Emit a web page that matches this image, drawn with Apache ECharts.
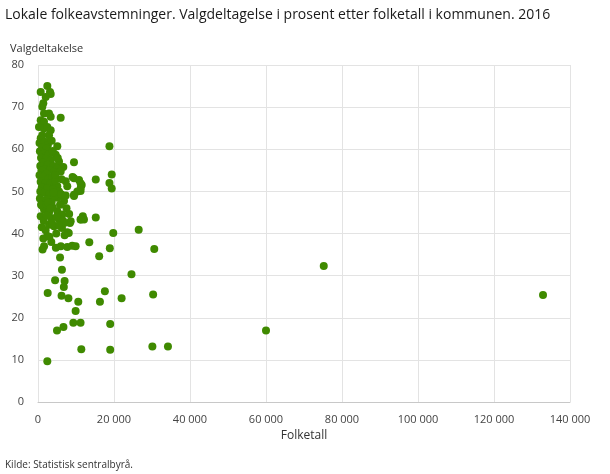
<!DOCTYPE html>
<html lang="no">
<head>
    <meta charset="UTF-8">
    <title>Lokale folkeavstemninger 2016</title>
    <script src="https://cdn.jsdelivr.net/npm/echarts@6/dist/echarts.min.js"></script>
    <style>
        html, body { margin: 0; padding: 0; background: #fff; }
    </style>
</head>
<body>
<div id="chart" style="width:610px;height:474px;"></div>
<script>
    // folketall (x) og valgdeltakelse i prosent (y), ett par per kommune
    var folketall = [
        2450, 710, 3160, 3340, 2030, 1400, 1130, 1580, 2900, 3340, 5970, 710, 1580, 260, 1580, 2450, 3340, 2900, 1130, 710, 5080, 18800,
        400, 1800, 2600, 3600, 1100, 2200,
        4660, 5530, 9470, 500, 1500, 2800, 3900, 800, 2100, 3400, 1200, 2600, 4000, 600, 6660, 5080, 1700, 3100, 900, 4300, 5970, 2300, 19400,
        7290, 9470, 10800, 9100, 15200, 18800, 19400, 11200, 11500, 11200, 11240, 10340, 9470, 7700, 5080, 5530, 400, 1300, 2700, 3800, 700, 2000, 3300, 4500, 1000, 2500, 4000, 600, 1800, 3000, 6200,
        2450, 5080, 6840, 9470, 1580, 2900, 5080, 6400, 1130, 500, 1200, 3600, 4300, 800, 2200, 3900, 5800, 7500, 2600, 3200,
        710, 5530, 11800, 12100, 11300, 15200, 8400, 8600, 11200, 2900, 4200, 6300, 7700, 8100, 19800, 26500, 1500, 3500, 2000, 4800, 1000, 6900,
        13500, 18900, 1600, 4700, 6000, 7700, 9000, 9900, 30600, 16100, 2450, 5800, 1200, 3500,
        6300, 7000, 6800, 4500, 2550, 6200, 8000, 10600, 9900, 17600, 16300, 22000, 24600, 30300, 5000, 6700, 9300, 11200, 19000, 11400, 19000, 2450, 30100, 34200, 60000, 75200, 132900,
        4900, 6600, 8200, 3700, 5500, 7000, 4100, 6100, 1400, 3000, 5200, 4600, 7300, 2300
    ];
    var valgdeltakelse = [
        75.0, 73.6, 73.6, 73.1, 72.4, 70.9, 70.1, 68.5, 68.5, 67.7, 67.5, 66.9, 66.5, 65.3, 64.9, 65.3, 64.5, 63.3, 63.3, 62.6, 60.7, 60.7,
        61.5, 61.8, 61.0, 62.0, 60.5, 60.2,
        58.7, 57.1, 56.9, 59.5, 59.0, 58.8, 59.6, 58.0, 57.7, 57.4, 56.8, 56.3, 56.0, 56.0, 55.8, 55.5, 55.3, 55.1, 54.9, 54.6, 54.7, 54.2, 54.0,
        52.4, 53.1, 52.7, 53.4, 52.8, 52.0, 50.7, 51.9, 51.5, 50.1, 50.8, 50.0, 49.2, 51.2, 51.2, 50.0, 53.8, 53.5, 53.0, 53.3, 52.3, 52.0, 51.8, 52.5, 51.0, 50.8, 50.5, 50.0, 49.6, 49.4, 52.9,
        48.1, 48.5, 47.7, 48.9, 45.7, 44.9, 45.3, 44.5, 46.5, 48.3, 47.8, 47.5, 48.9, 46.8, 46.9, 46.2, 46.8, 46.0, 47.3, 45.9,
        44.1, 43.3, 44.1, 43.3, 43.3, 43.8, 42.5, 42.9, 43.3, 42.1, 41.7, 41.3, 40.3, 40.1, 40.1, 40.9, 43.0, 43.6, 40.8, 40.0, 41.5, 42.5,
        37.9, 36.5, 37.0, 36.6, 37.0, 36.8, 37.1, 37.0, 36.3, 34.6, 39.4, 34.3, 36.2, 38.0,
        31.4, 28.7, 27.3, 28.9, 25.9, 25.2, 24.6, 23.8, 21.6, 26.3, 23.8, 24.6, 30.3, 25.5, 17.0, 17.8, 18.8, 18.8, 18.5, 12.5, 12.4, 9.7, 13.2, 13.2, 17.0, 32.3, 25.4,
        43.9, 43.0, 44.6, 42.4, 41.9, 39.6, 49.8, 49.3, 38.8, 39.2, 57.9, 53.9, 49.0, 44.3
    ];

    var punkter = [];
    for (var i = 0; i < folketall.length; i++) {
        punkter.push([folketall[i], valgdeltakelse[i]]);
    }

    function tusen(v) {
        return String(v).replace(/\B(?=(\d{3})+(?!\d))/g, ' ');
    }

    var myChart = echarts.init(document.getElementById('chart'));
    var font = '"Open Sans", sans-serif';

    var option = {
        animation: false,
        textStyle: { fontFamily: font },
        title: [{
            text: 'Lokale folkeavstemninger. Valgdeltagelse i prosent etter folketall i kommunen. 2016',
            left: 0, top: 3,
            textStyle: { fontFamily: font, fontSize: 14, fontWeight: 'normal', color: '#1a1a1a' }
        }, {
            text: 'Valgdeltakelse',
            left: 5, top: 38,
            textStyle: { fontFamily: font, fontSize: 11, fontWeight: 'normal', color: '#333' }
        }, {
            text: 'Kilde: Statistisk sentralbyrå.',
            left: 0, top: 455,
            textStyle: { fontFamily: font, fontSize: 10, fontWeight: 'normal', color: '#333' }
        }],
        grid: { left: 38, right: 40, top: 65, bottom: 72 },
        xAxis: {
            type: 'value',
            min: 0, max: 140000, interval: 20000,
            name: 'Folketall',
            nameLocation: 'middle',
            nameGap: 28,
            nameTextStyle: { fontSize: 12, color: '#333' },
            axisLine: { show: true, lineStyle: { color: '#c8c8c8' } },
            axisTick: { show: false },
            axisLabel: { fontSize: 11, color: '#444', margin: 12, formatter: tusen },
            splitLine: { show: true, lineStyle: { color: '#e3e3e3' } }
        },
        yAxis: {
            type: 'value',
            min: 0, max: 80, interval: 10,
            axisLine: { show: false },
            axisTick: { show: false },
            axisLabel: { fontSize: 11, color: '#444', margin: 14 },
            splitLine: { show: true, lineStyle: { color: '#e3e3e3' } }
        },
        series: [{
            type: 'scatter',
            data: punkter,
            symbolSize: 8,
            itemStyle: { color: '#3f8a00', opacity: 1 }
        }]
    };

    myChart.setOption(option);
</script>
</body>
</html>
